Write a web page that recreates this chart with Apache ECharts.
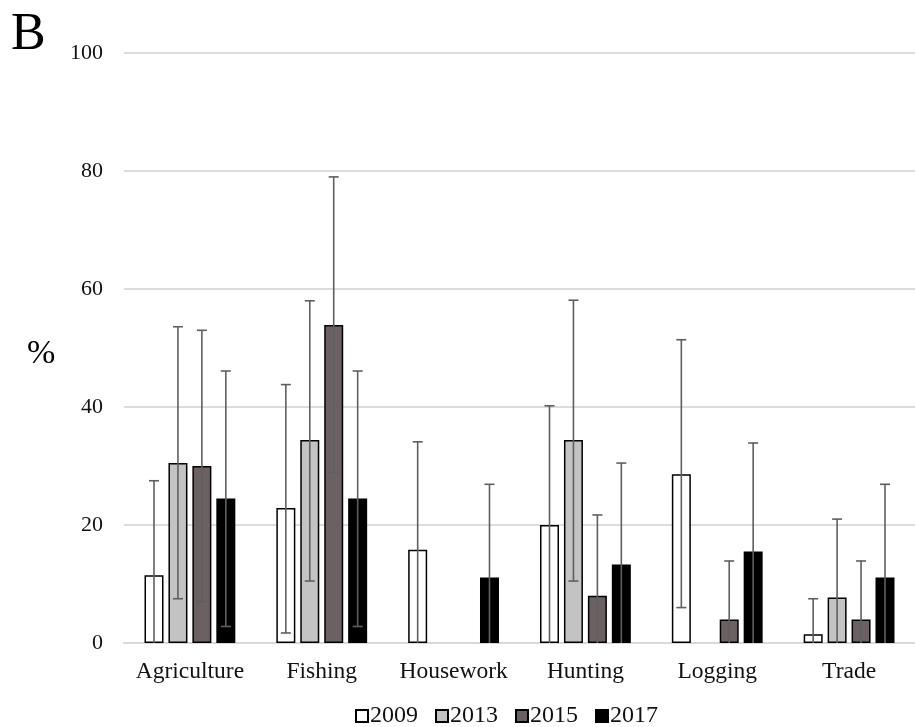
<!DOCTYPE html>
<html>
<head>
<meta charset="utf-8">
<script src="https://cdn.jsdelivr.net/npm/echarts@6/dist/echarts.min.js"></script>
<style>
  html, body { margin: 0; padding: 0; background: #ffffff; }
  #chart { width: 915px; height: 727px; }
</style>
</head>
<body>
<div id="chart"></div>
<script>
// Occupation categories and survey years
const categories = ['Agriculture', 'Fishing', 'Housework', 'Hunting', 'Logging', 'Trade'];
const years = ['2009', '2013', '2015', '2017'];

// Percentages per year (null = no bar)
const pct2009 = [11.5, 22.9, 15.8, 20.0, 28.6, 1.5];
const pct2013 = [30.5, 34.4, null, 34.4, null, 7.7];
const pct2015 = [30.0, 53.9, null, 8.0, 4.0, 4.0];
const pct2017 = [24.5, 24.5, 11.1, 13.3, 15.5, 11.1];

// Error bar bounds (lower, upper) per year
const low2009 = [0, 1.7, 0, 0, 6.0, 0];
const high2009 = [27.5, 43.8, 34.1, 40.2, 51.4, 7.5];
const low2013 = [7.5, 10.5, null, 10.5, null, 0];
const high2013 = [53.6, 58.0, null, 58.1, null, 21.0];
const low2015 = [7.0, 28.9, null, 0, 0, 0];
const high2015 = [53.0, 79.0, null, 21.7, 13.9, 13.9];
const low2017 = [2.8, 2.8, 0, 0, 0, 0];
const high2017 = [46.1, 46.1, 26.9, 30.5, 33.9, 26.9];

// Y-axis ticks
const yTicks = [0, 20, 40, 60, 80, 100];

const pctByYear = [pct2009, pct2013, pct2015, pct2017];
const lowByYear = [low2009, low2013, low2015, low2017];
const highByYear = [high2009, high2013, high2015, high2017];

const fills = ['#ffffff', '#c3c3c3', '#6b6163', '#000000'];
const FONT = "'Liberation Serif', 'Times New Roman', serif";
const BAR_W = 19;
const GAP_RATIO = 0.26;
const CAP = 10;

const chart = echarts.init(document.getElementById('chart'), null, { renderer: 'canvas' });

const barSeries = years.map((y, k) => ({
  name: y,
  type: 'bar',
  barWidth: BAR_W,
  barGap: (GAP_RATIO * 100) + '%',
  data: pctByYear[k],
  itemStyle: { color: fills[k], borderColor: '#000000', borderWidth: 1.5 },
  z: 2
}));

const errorSeries = years.map((y, k) => {
  const data = [];
  categories.forEach((c, i) => {
    if (highByYear[k][i] != null) data.push([i, lowByYear[k][i], highByYear[k][i]]);
  });
  const offset = (k - 1.5) * BAR_W * (1 + GAP_RATIO);
  return {
    name: 'err' + y,
    type: 'custom',
    data: data,
    encode: { x: 0, y: [1, 2] },
    z: 5,
    silent: true,
    renderItem: function (params, api) {
      const xi = api.value(0);
      const lo = api.value(1);
      const hi = api.value(2);
      const top = api.coord([xi, hi]);
      const bot = api.coord([xi, lo]);
      const cx = top[0] + offset;
      const style = { stroke: '#5f5f5f', lineWidth: 1.6 };
      const children = [
        { type: 'line', shape: { x1: cx, y1: bot[1], x2: cx, y2: top[1] }, style: style },
        { type: 'line', shape: { x1: cx - CAP / 2, y1: top[1], x2: cx + CAP / 2, y2: top[1] }, style: style }
      ];
      if (lo > 0) {
        children.push({ type: 'line', shape: { x1: cx - CAP / 2, y1: bot[1], x2: cx + CAP / 2, y2: bot[1] }, style: style });
      }
      return { type: 'group', children: children };
    }
  };
});

chart.setOption({
  backgroundColor: '#ffffff',
  animation: false,
  textStyle: { fontFamily: FONT, color: '#111111' },
  grid: { left: 124, top: 53, width: 798, height: 590, containLabel: false },
  graphic: [
    { type: 'text', left: 11, top: 9, style: { text: 'B', font: '52px ' + FONT, fill: '#000000' } },
    { type: 'text', left: 27, top: 337, style: { text: '%', font: '34px ' + FONT, fill: '#000000' } }
  ],
  legend: {
    data: years,
    top: 699,
    left: 350,
    itemWidth: 12,
    itemHeight: 12,
    itemGap: 17,
    icon: 'rect',
    textStyle: { fontFamily: FONT, fontSize: 24, color: '#111111', padding: [0, 0, 0, -3] }
  },
  xAxis: {
    type: 'category',
    data: categories,
    axisTick: { show: false },
    axisLine: { lineStyle: { color: '#d9d9d9', width: 2 } },
    axisLabel: { interval: 0, fontFamily: FONT, fontSize: 23.5, color: '#111111', margin: 17 }
  },
  yAxis: {
    type: 'value',
    min: yTicks[0],
    max: yTicks[yTicks.length - 1],
    interval: yTicks[1] - yTicks[0],
    axisLine: { show: false },
    axisTick: { show: false },
    splitLine: { lineStyle: { color: '#dcdcdc', width: 2 } },
    axisLabel: { fontFamily: FONT, fontSize: 22, color: '#111111', margin: 21 }
  },
  series: barSeries.concat(errorSeries)
});
</script>
</body>
</html>
